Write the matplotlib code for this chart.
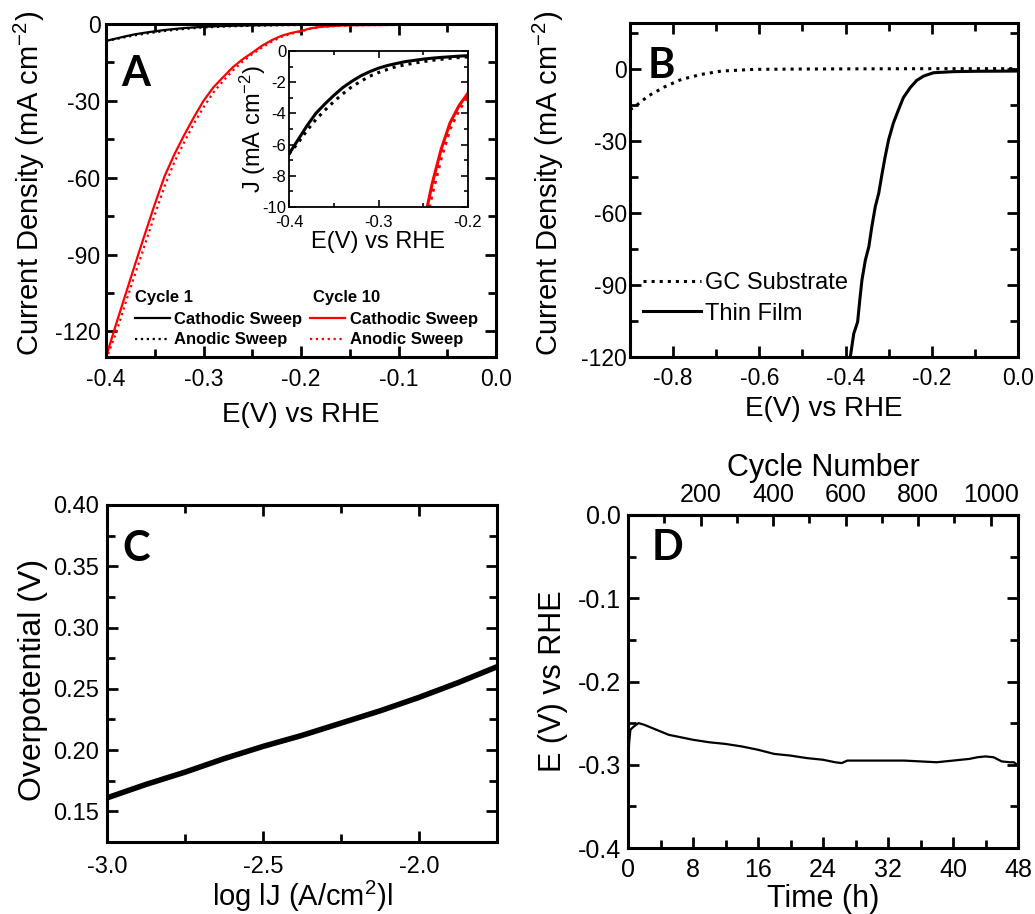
import matplotlib
matplotlib.use("Agg")
import matplotlib.pyplot as plt
from matplotlib.ticker import MultipleLocator
from matplotlib.lines import Line2D

plt.rcParams["font.family"] = ["Liberation Sans", "DejaVu Sans"]
plt.rcParams["mathtext.default"] = "regular"
plt.rcParams["axes.unicode_minus"] = False

# ---- Panel A: polarization curves, cycle 1 vs cycle 10 ----
E_a = [-0.40, -0.39, -0.38, -0.37, -0.36, -0.35, -0.34, -0.33, -0.32, -0.31,
       -0.30, -0.29, -0.28, -0.27, -0.26, -0.25, -0.24, -0.23, -0.22, -0.21,
       -0.20, -0.19, -0.18, -0.16, -0.14, -0.12, -0.10, -0.05, 0.0]
c1_cath = [-6.6, -5.7, -4.8, -4.0, -3.4, -2.85, -2.35, -1.95, -1.6, -1.33,
           -1.1, -0.93, -0.8, -0.68, -0.6, -0.52, -0.46, -0.41, -0.37, -0.33,
           -0.3, -0.28, -0.26, -0.23, -0.2, -0.18, -0.16, -0.13, -0.1]
c1_anod = [-6.6, -5.9, -5.1, -4.4, -3.8, -3.25, -2.75, -2.3, -1.95, -1.62,
           -1.38, -1.18, -1.0, -0.88, -0.78, -0.68, -0.6, -0.53, -0.47, -0.42,
           -0.38, -0.34, -0.31, -0.27, -0.23, -0.2, -0.18, -0.14, -0.1]
c10_cath = [-130, -117.6, -105.6, -93.6, -81.9, -70.4, -59.5, -51.0, -43.5, -36.5,
            -30.0, -24.8, -20.8, -16.9, -13.8, -11.2, -8.5, -6.3, -4.6, -3.5,
            -2.7, -1.7, -1.1, -0.6, -0.45, -0.4, -0.35, -0.3, -0.3]
c10_anod = [-131, -121, -109, -97.5, -86, -74.5, -63.5, -54.0, -46.3, -39.0,
            -32.5, -26.8, -22.3, -18.2, -14.7, -11.8, -9.2, -6.9, -5.0, -3.8,
            -2.9, -1.8, -1.2, -0.65, -0.45, -0.4, -0.35, -0.3, -0.3]

# ---- Panel B: GC substrate vs thin film ----
E_gc = [-0.90, -0.892, -0.858, -0.819, -0.781, -0.735, -0.688, -0.612, -0.5,
        -0.4, -0.3, -0.2, -0.1, 0.0]
J_gc = [-17.0, -16.3, -11.4, -7.5, -4.5, -2.4, -1.0, -0.3, -0.15, -0.1,
        -0.05, 0.0, 0.0, 0.0]
E_tf = [-0.389, -0.381, -0.372, -0.367, -0.362, -0.354, -0.346, -0.339, -0.331,
        -0.323, -0.315, -0.308, -0.300, -0.289, -0.277, -0.266, -0.250, -0.235,
        -0.219, -0.196, -0.150, -0.100, 0.0]
J_tf = [-120, -110.3, -105.4, -96.3, -88.0, -79.6, -74.1, -65.7, -57.4, -51.8,
        -43.4, -36.5, -29.5, -22.6, -17.0, -12.1, -7.9, -4.9, -3.1, -1.7,
        -1.25, -1.1, -1.0]

# ---- Panel C: Tafel plot ----
logJ = [-3.0, -2.875, -2.75, -2.625, -2.5, -2.375, -2.25, -2.125, -2.0, -1.875, -1.75]
eta = [0.161, 0.172, 0.182, 0.193, 0.203, 0.212, 0.222, 0.232, 0.243, 0.255, 0.268]

# ---- Panel D: stability ----
t_h = [0, 0.15, 0.3, 0.6, 1.0, 1.3, 2, 3, 4, 5, 6, 8, 10, 12, 14, 16, 18, 20,
       22, 24, 25.5, 26.3, 27, 28, 30, 32, 34, 36, 38, 40, 41, 42, 43, 44, 45,
       46, 47, 47.5, 48]
E_d = [-0.300, -0.272, -0.258, -0.255, -0.252, -0.250, -0.252, -0.256, -0.260,
       -0.264, -0.266, -0.270, -0.273, -0.275, -0.278, -0.282, -0.287, -0.289,
       -0.292, -0.294, -0.297, -0.298, -0.295, -0.295, -0.295, -0.295, -0.295,
       -0.296, -0.297, -0.295, -0.294, -0.293, -0.291, -0.290, -0.291, -0.296,
       -0.297, -0.297, -0.301]
cycles_per_hour = 22.4

W, H = 1035, 914
fig = plt.figure(figsize=(W / 100, H / 100), dpi=100)


def add_ax(l, r, t, b):
    return fig.add_axes([l / W, 1 - b / H, (r - l) / W, (b - t) / H])


def style(ax, size, lw=2.2, major=8, minor=6, xpad=7, ypad=4):
    ax.tick_params(which="both", direction="in", top=True, right=True, width=lw * 0.9)
    ax.tick_params(which="major", length=major, labelsize=size)
    ax.tick_params(which="minor", length=minor)
    ax.tick_params(axis="x", which="both", pad=xpad)
    ax.tick_params(axis="y", which="both", pad=ypad)
    for s in ax.spines.values():
        s.set_linewidth(lw)


def letter(ax, x, y, s):
    ax.text(x, y, s, transform=ax.transAxes, family="Lato", fontweight="bold",
            fontsize=30, ha="left", va="center")


# A
axA = add_ax(106, 496, 24, 357)
axA.plot(E_a, c1_cath, color="black", lw=1.6)
axA.plot(E_a, c1_anod, color="black", lw=1.6, ls=":")
axA.plot(E_a, c10_cath, color="red", lw=1.6)
axA.plot(E_a, c10_anod, color="red", lw=1.6, ls=":")
axA.set_xlim(-0.4, 0.0)
axA.set_ylim(-130, 0)
axA.xaxis.set_major_locator(MultipleLocator(0.1))
axA.xaxis.set_minor_locator(MultipleLocator(0.05))
axA.yaxis.set_major_locator(MultipleLocator(30))
axA.yaxis.set_minor_locator(MultipleLocator(15))
axA.xaxis.set_major_formatter(lambda v, p: f"{v:.1f}")
style(axA, 16.5, xpad=8, ypad=4)
axA.set_xlabel("E(V) vs RHE", fontsize=20)
axA.set_ylabel("Current Density (mA cm$^{-2}$)", fontsize=21)
axA.xaxis.set_label_coords(0.5, -0.135)
axA.yaxis.set_label_coords(-0.15, 0.52)
letter(axA, 0.04, 0.85, "A")
h = [Line2D([], [], color="black", lw=1.6), Line2D([], [], color="black", lw=1.6, ls=":"),
     Line2D([], [], color="red", lw=1.6), Line2D([], [], color="red", lw=1.6, ls=":")]
lab = ["Cathodic Sweep", "Anodic Sweep", "Cathodic Sweep", "Anodic Sweep"]
axA.legend(h, lab, ncol=2, loc="upper left", bbox_to_anchor=(0.074, 0.135),
           frameon=False, borderpad=0, borderaxespad=0, handlelength=2.1,
           handletextpad=0.25, columnspacing=0.5, labelspacing=0.32,
           prop={"weight": "bold", "size": 12})
axA.text(0.074, 0.18, "Cycle 1", transform=axA.transAxes, fontsize=12,
         fontweight="bold", va="center")
axA.text(0.531, 0.18, "Cycle 10", transform=axA.transAxes, fontsize=12,
         fontweight="bold", va="center")

# A inset
axI = add_ax(289, 468, 51, 207)
axI.plot(E_a, c1_cath, color="black", lw=2.2)
axI.plot(E_a, c1_anod, color="black", lw=2.2, ls=":")
axI.plot(E_a, c10_cath, color="red", lw=2.2)
axI.plot(E_a, c10_anod, color="red", lw=2.2, ls=":")
axI.set_xlim(-0.4, -0.2)
axI.set_ylim(-10, 0)
axI.xaxis.set_major_locator(MultipleLocator(0.1))
axI.xaxis.set_minor_locator(MultipleLocator(0.05))
axI.yaxis.set_major_locator(MultipleLocator(2))
axI.yaxis.set_minor_locator(MultipleLocator(1))
axI.xaxis.set_major_formatter(lambda v, p: f"{v:.1f}")
style(axI, 12, lw=1.3, major=5, minor=3, xpad=5.5, ypad=2)
axI.set_xlabel("E(V) vs RHE", fontsize=17)
axI.set_ylabel("J (mA cm$^{-2}$)", fontsize=17)
axI.xaxis.set_label_coords(0.5, -0.155)
axI.yaxis.set_label_coords(-0.12, 0.5)

# B
axB = add_ax(630, 1018, 23, 357)
axB.plot(E_gc, J_gc, color="black", lw=2.2, ls=":", label="GC Substrate")
axB.plot(E_tf, J_tf, color="black", lw=2.2, label="Thin Film")
axB.set_xlim(-0.9, 0.0)
axB.set_ylim(-120, 19)
axB.xaxis.set_major_locator(MultipleLocator(0.2))
axB.xaxis.set_minor_locator(MultipleLocator(0.1))
axB.yaxis.set_major_locator(MultipleLocator(30))
axB.yaxis.set_minor_locator(MultipleLocator(15))
axB.xaxis.set_major_formatter(lambda v, p: f"{v:.1f}")
style(axB, 16.5, xpad=7, ypad=2)
axB.set_xlabel("E(V) vs RHE", fontsize=20)
axB.set_ylabel("Current Density (mA cm$^{-2}$)", fontsize=21)
axB.xaxis.set_label_coords(0.5, -0.118)
axB.yaxis.set_label_coords(-0.165, 0.52)
letter(axB, 0.045, 0.87, "B")
axB.legend(loc="upper left", bbox_to_anchor=(0.034, 0.255), frameon=False,
           borderpad=0, borderaxespad=0, handlelength=2.45, handletextpad=0.15,
           labelspacing=0.37, fontsize=17)

# C
axC = add_ax(107, 497, 505, 842)
axC.plot(logJ, eta, color="black", lw=4)
axC.set_xlim(-3.0, -1.75)
axC.set_ylim(0.125, 0.40)
axC.xaxis.set_major_locator(MultipleLocator(0.5))
axC.xaxis.set_minor_locator(MultipleLocator(0.25))
axC.yaxis.set_major_locator(MultipleLocator(0.05))
axC.yaxis.set_minor_locator(MultipleLocator(0.025))
axC.xaxis.set_major_formatter(lambda v, p: f"{v:.1f}")
axC.yaxis.set_major_formatter(lambda v, p: f"{v:.2f}")
style(axC, 17, xpad=10, ypad=6)
axC.set_xlabel("log lJ (A/cm$^{2}$)l", fontsize=21)
axC.set_ylabel("Overpotential (V)", fontsize=23)
axC.xaxis.set_label_coords(0.5, -0.11)
axC.yaxis.set_label_coords(-0.15, 0.48)
letter(axC, 0.04, 0.87, "C")

# D
axD = add_ax(628, 1018, 515, 848)
axD.plot(t_h, E_d, color="black", lw=1.6)
axD.set_xlim(0, 48)
axD.set_ylim(-0.4, 0.0)
axD.xaxis.set_major_locator(MultipleLocator(8))
axD.xaxis.set_minor_locator(MultipleLocator(4))
axD.yaxis.set_major_locator(MultipleLocator(0.1))
axD.yaxis.set_minor_locator(MultipleLocator(0.05))
axD.yaxis.set_major_formatter(lambda v, p: f"{v:.1f}")
style(axD, 18, xpad=7, ypad=5)
axD.tick_params(which="both", top=False)
axD.set_xlabel("Time (h)", fontsize=22)
axD.set_ylabel("E (V) vs RHE", fontsize=22)
axD.xaxis.set_label_coords(0.5, -0.108)
axD.yaxis.set_label_coords(-0.155, 0.5)
letter(axD, 0.06, 0.90, "D")
secD = axD.secondary_xaxis("top", functions=(lambda t: t * cycles_per_hour,
                                             lambda c: c / cycles_per_hour))
secD.xaxis.set_major_locator(MultipleLocator(200))
secD.xaxis.set_minor_locator(MultipleLocator(100))
secD.tick_params(which="both", direction="in", width=2, labelsize=18, pad=6)
secD.tick_params(which="major", length=8)
secD.tick_params(which="minor", length=6)
secD.spines["top"].set_linewidth(2.2)
secD.xaxis.set_major_formatter(lambda v, p: "" if v <= 0 or v > 1075 else f"{v:.0f}")
secD.set_xlabel("Cycle Number", fontsize=22, labelpad=5)

fig.savefig("out.png", dpi=100)
